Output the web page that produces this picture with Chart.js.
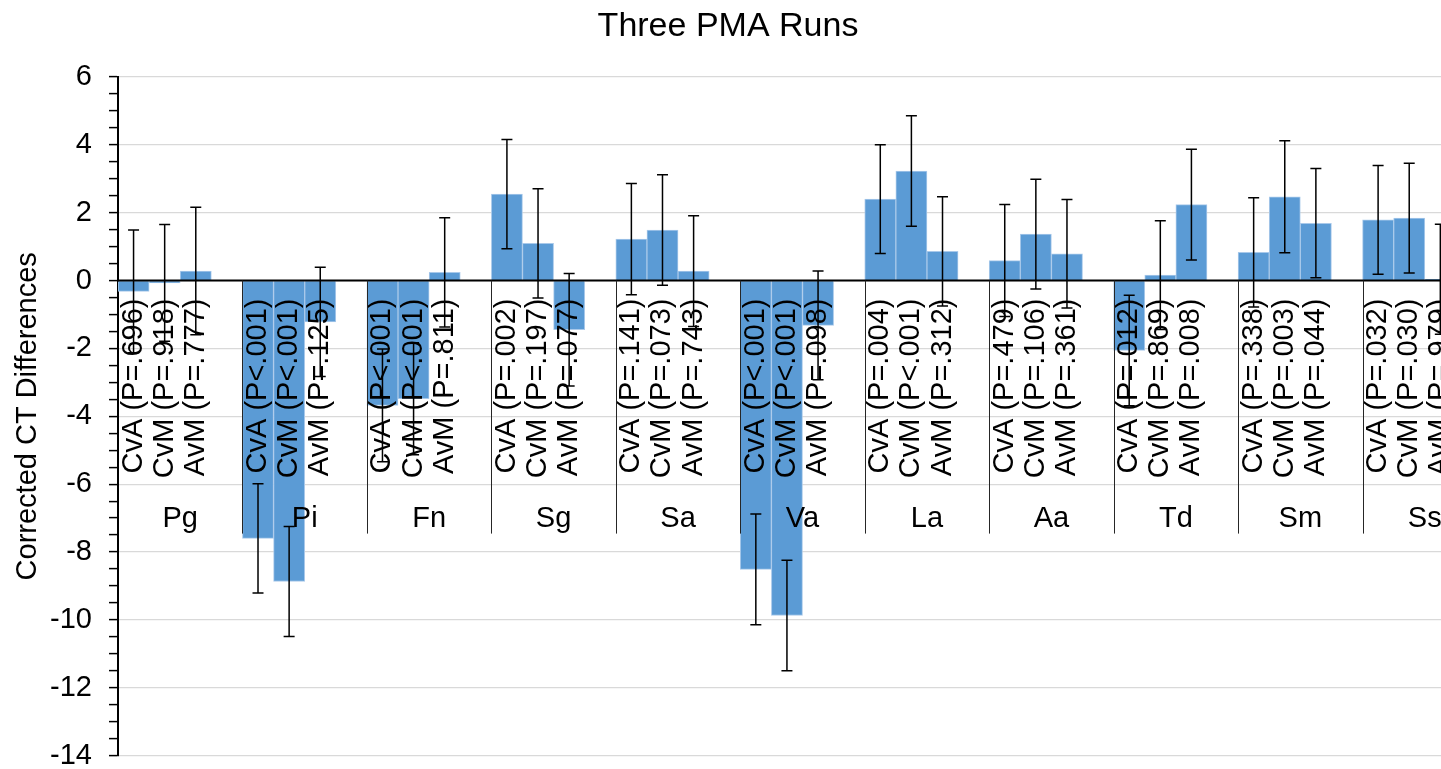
<!DOCTYPE html>
<html>
<head>
<meta charset="utf-8">
<title>Three PMA Runs</title>
<script src="https://cdn.jsdelivr.net/npm/chart.js@4.4.1/dist/chart.umd.min.js"></script>
<style>
  html, body { margin: 0; padding: 0; background: #fff; overflow: hidden; }
  #wrap { width: 1487px; height: 790px; position: relative; }
</style>
</head>
<body>
<div id="wrap"><canvas id="pmaChart"></canvas></div>
<script>
const groups = ['Pg', 'Pi', 'Fn', 'Sg', 'Sa', 'Va', 'La', 'Aa', 'Td', 'Sm', 'Ss'];
const comparisons = ['CvA', 'CvM', 'AvM'];

// corrected CT differences per comparison, one value per group
const cvaDiff = [-0.32, -7.60, -3.68, 2.55, 1.22, -8.51, 2.40, 0.59, -2.06, 0.83, 1.79];
const cvmDiff = [-0.07, -8.87, -3.48, 1.10, 1.49, -9.87, 3.23, 1.37, 0.16, 2.47, 1.84];
const avmDiff = [0.28, -1.22, 0.24, -1.45, 0.28, -1.32, 0.86, 0.79, 2.24, 1.69, 0.04];

// error bar half lengths
const cvaErr = [1.81, 1.61, 1.66, 1.61, 1.64, 1.63, 1.60, 1.65, 1.63, 1.61, 1.60];
const cvmErr = [1.72, 1.62, 1.65, 1.61, 1.63, 1.63, 1.63, 1.62, 1.60, 1.65, 1.62];
const avmErr = [1.88, 1.61, 1.61, 1.66, 1.63, 1.60, 1.61, 1.60, 1.63, 1.61, 1.62];

// p values shown in the category labels
const cvaP = ['=.696', '<.001', '<.001', '=.002', '=.141', '<.001', '=.004', '=.479', '=.012', '=.338', '=.032'];
const cvmP = ['=.918', '<.001', '<.001', '=.197', '=.073', '<.001', '<.001', '=.106', '=.869', '=.003', '=.030'];
const avmP = ['=.777', '=.125', '=.811', '=.077', '=.743', '=.098', '=.312', '=.361', '=.008', '=.044', '=.979'];

const yMin = -14;
const yMax = 6;

const FONT = "'Liberation Sans', Arial, sans-serif";
Chart.defaults.font.family = FONT;
Chart.defaults.color = '#000';

// each group takes 4 slots: three bars and an empty one (the gap)
const diffs = [cvaDiff, cvmDiff, avmDiff];
const errs = [cvaErr, cvmErr, avmErr];
const pvals = [cvaP, cvmP, avmP];
const slotLabels = [];
const slotValues = [];
const slotErrors = [];
groups.forEach((g, gi) => {
    comparisons.forEach((c, ci) => {
        slotLabels.push(c + ' (P' + pvals[ci][gi] + ')');
        slotValues.push(diffs[ci][gi]);
        slotErrors.push(errs[ci][gi]);
    });
    slotLabels.push('');
    slotValues.push(null);
    slotErrors.push(null);
});

const axisDecor = {
    id: 'axisDecor',
    afterDatasetsDraw(chart) {
        const ctx = chart.ctx;
        const x = chart.scales.x;
        const y = chart.scales.y;
        const area = chart.chartArea;
        const meta = chart.getDatasetMeta(0);
        const y0 = y.getPixelForValue(0);
        const slotW = x.getPixelForValue(1) - x.getPixelForValue(0);

        ctx.save();
        // error bars
        ctx.strokeStyle = '#000';
        ctx.lineWidth = 1.5;
        meta.data.forEach((bar, i) => {
            const e = slotErrors[i];
            if (e == null) return;
            const v = slotValues[i];
            const top = y.getPixelForValue(v + e);
            const bot = y.getPixelForValue(v - e);
            ctx.beginPath();
            ctx.moveTo(bar.x, top);
            ctx.lineTo(bar.x, bot);
            ctx.moveTo(bar.x - 5.5, top);
            ctx.lineTo(bar.x + 5.5, top);
            ctx.moveTo(bar.x - 5.5, bot);
            ctx.lineTo(bar.x + 5.5, bot);
            ctx.stroke();
        });

        // inner category labels, rotated
        ctx.fillStyle = '#000';
        ctx.font = '29px ' + FONT;
        ctx.textAlign = 'right';
        ctx.textBaseline = 'middle';
        slotLabels.forEach((lab, i) => {
            if (!lab) return;
            ctx.save();
            ctx.translate(x.getPixelForValue(i), y0 + 18);
            ctx.rotate(-Math.PI / 2);
            ctx.fillText(lab, 0, 0);
            ctx.restore();
        });

        // horizontal axis line at zero
        ctx.strokeStyle = '#000';
        ctx.lineWidth = 2;
        ctx.beginPath();
        ctx.moveTo(area.left, y0);
        ctx.lineTo(area.right, y0);
        ctx.stroke();

        // group separators and group labels
        ctx.lineWidth = 1;
        ctx.strokeStyle = '#262626';
        ctx.textAlign = 'center';
        ctx.textBaseline = 'alphabetic';
        groups.forEach((g, gi) => {
            const first = x.getPixelForValue(gi * 4);
            const last = x.getPixelForValue(gi * 4 + 3);
            if (gi > 0) {
                const sx = Math.round(first - slotW / 2) + 0.5;
                ctx.beginPath();
                ctx.moveTo(sx, y0);
                ctx.lineTo(sx, y0 + 253);
                ctx.stroke();
            }
            ctx.fillText(g, (first + last) / 2, y0 + 246);
        });

        // chart title
        ctx.font = '34px ' + FONT;
        ctx.fillText('Three PMA Runs', 728, 36);
        ctx.restore();
    }
};

new Chart(document.getElementById('pmaChart'), {
    type: 'bar',
    data: {
        labels: slotLabels,
        datasets: [{
            label: 'Corrected CT Differences',
            data: slotValues,
            backgroundColor: '#5b9bd5',
            borderColor: '#a9c9ea',
            borderWidth: 1,
            categoryPercentage: 1,
            barPercentage: 1
        }]
    },
    options: {
        responsive: true,
        maintainAspectRatio: false,
        animation: false,
        layout: {
            padding: { left: 7, right: 0, top: 77, bottom: 32 }
        },
        plugins: {
            legend: { display: false },
            title: { display: false },
            tooltip: { enabled: false }
        },
        scales: {
            x: {
                display: false
            },
            y: {
                min: yMin,
                max: yMax,
                afterFit(scale) {
                    scale.width = 111;
                },
                border: { display: true, color: '#000', width: 2 },
                grid: {
                    color: c => (c.tick && c.tick.value % 2 === 0) ? '#d9d9d9' : 'rgba(0,0,0,0)',
                    tickColor: '#000',
                    tickLength: 9,
                    tickWidth: 1.5,
                    lineWidth: 1.2
                },
                ticks: {
                    stepSize: 0.5,
                    autoSkip: false,
                    padding: 17,
                    color: '#000',
                    font: { size: 29 },
                    callback: v => (v % 2 === 0 ? String(v) : '')
                },
                title: {
                    display: true,
                    text: 'Corrected CT Differences',
                    color: '#000',
                    font: { size: 29 }
                }
            }
        }
    },
    plugins: [axisDecor]
});
</script>
</body>
</html>
